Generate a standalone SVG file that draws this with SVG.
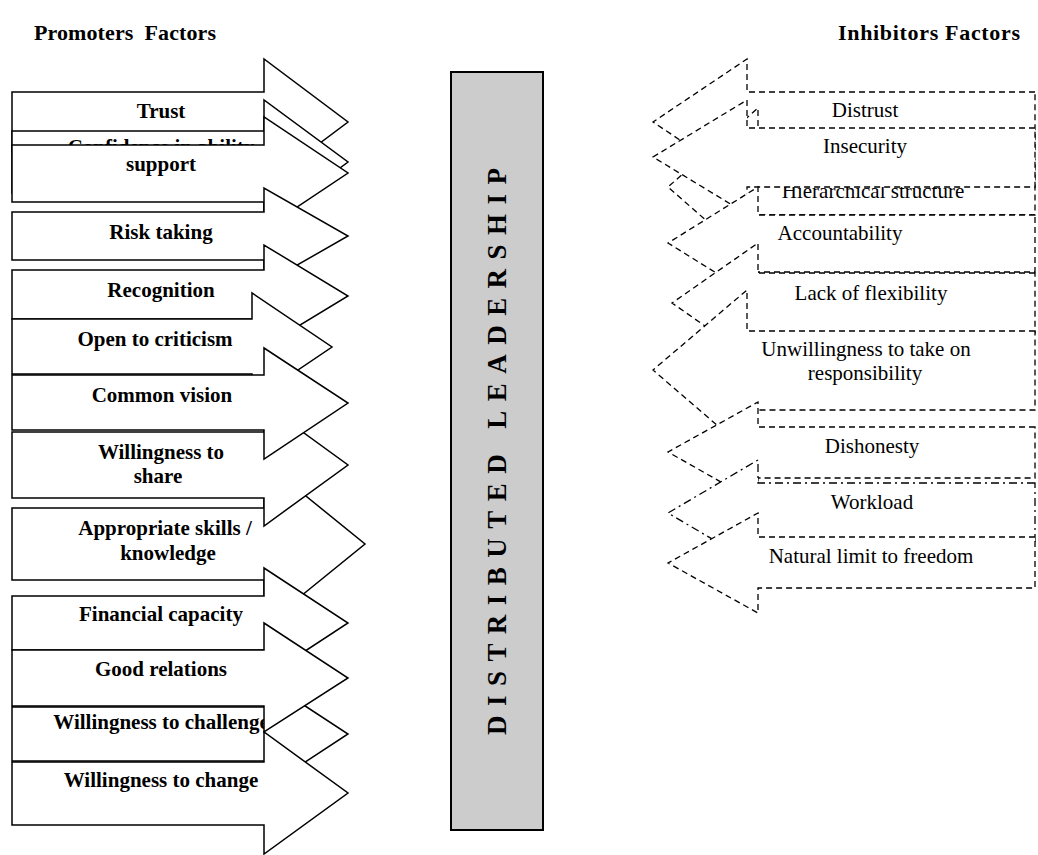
<svg xmlns="http://www.w3.org/2000/svg" width="1038" height="855" viewBox="0 0 1038 855">
<style>
.pa{fill:#fff;stroke:#000;stroke-width:1.5;stroke-linejoin:miter}
.ia{fill:#fff;stroke:#000;stroke-width:1.3;stroke-dasharray:6 4}
.dd{stroke-dasharray:8 4 2 4}
.pt{font-family:"Liberation Serif","Times New Roman",serif;font-weight:bold;font-size:21px;text-anchor:middle;fill:#000}
.it{font-family:"Liberation Serif","Times New Roman",serif;font-size:21px;text-anchor:middle;fill:#000}
.hd{font-family:"Liberation Serif","Times New Roman",serif;font-weight:bold;font-size:22px;fill:#000}
</style>
<rect width="1038" height="855" fill="#fff"/>
<g id="titles">
<text class="hd" x="34" y="40" xml:space="preserve" textLength="182">Promoters  Factors</text>
<text class="hd" x="838" y="40" textLength="182">Inhibitors Factors</text>
</g>
<g id="promoters">
<g id="p-trust"><path class="pa" d="M12,92 H264 V59 L348,122 L264,185 V152 H12 Z"/><text class="pt" x="161" y="118">Trust</text></g>
<g id="p-confidence"><path class="pa" d="M12,131 H264 V100 L348,162 L264,224 V193 H12 Z"/><text class="pt" x="161" y="154">Confidence in ability</text></g>
<g id="p-support"><path class="pa" d="M12,145 H264 V117 L348,173 L264,229 V202 H12 Z"/><text class="pt" x="161" y="171">support</text></g>
<g id="p-risk"><path class="pa" d="M12,212 H264 V188 L348,236 L264,284 V260 H12 Z"/><text class="pt" x="161" y="239">Risk taking</text></g>
<g id="p-recognition"><path class="pa" d="M12,270 H264 V245 L348,296 L264,347 V319 H12 Z"/><text class="pt" x="161" y="297">Recognition</text></g>
<g id="p-open"><path class="pa" d="M12,319 H252 V293 L332,347 L252,401 V374 H12 Z"/><text class="pt" x="155" y="346">Open to criticism</text></g>
<g id="p-skills"><path class="pa" d="M12,508 H264 V462 L365,544 L264,626 V580 H12 Z"/><text class="pt" x="165" y="535">Appropriate skills /</text><text class="pt" x="168" y="560">knowledge</text></g>
<g id="p-share"><path class="pa" d="M12,432 H264 V404 L348,465 L264,526 V498 H12 Z"/><text class="pt" x="161" y="459">Willingness to</text><text class="pt" x="158" y="483">share</text></g>
<g id="p-vision"><path class="pa" d="M12,375 H264 V348 L348,403 L264,459 V430 H12 Z"/><text class="pt" x="162" y="402">Common vision</text></g>
<g id="p-financial"><path class="pa" d="M12,596 H264 V568 L348,623 L264,678 V650 H12 Z"/><text class="pt" x="161" y="621">Financial capacity</text></g>
<g id="p-challenge"><path class="pa" d="M12,707 H264 V679 L348,734 L264,789 V761 H12 Z"/><text class="pt" x="161" y="729">Willingness to challenge</text></g>
<g id="p-relations"><path class="pa" d="M12,650 H264 V623 L348,678 L264,732 V706 H12 Z"/><text class="pt" x="161" y="676">Good relations</text></g>
<g id="p-change"><path class="pa" d="M12,762 H264 V732 L348,793 L264,854 V825 H12 Z"/><text class="pt" x="161" y="787">Willingness to change</text></g>
</g>
<g id="center">
<rect x="451" y="72" width="92" height="758" fill="#cccccc" stroke="#000" stroke-width="2"/>
<text class="hd" style="font-size:27px" transform="translate(506,735) rotate(-90)" textLength="567" lengthAdjust="spacing">DISTRIBUTED LEADERSHIP</text>
</g>
<g id="inhibitors">
<g id="i-distrust"><path class="ia" d="M1035,92 H747 V59 L653,122 L747,185 V152 H1035 Z"/><text class="it" x="865" y="117">Distrust</text></g>
<g id="i-hierarchical"><path class="ia" d="M1035,159 H758 V108 L668,187 L758,266 V215 H1035 Z"/><text class="it" x="873" y="198">Hierarchical structure</text></g>
<g id="i-insecurity"><path class="ia" d="M1035,128 H747 V100 L653,157 L747,214 V187 H1035 Z"/><text class="it" x="865" y="153">Insecurity</text></g>
<g id="i-accountability"><path class="ia" d="M1035,215 H758 V187 L668,243 L758,299 V272 H1035 Z"/><text class="it" x="840" y="240">Accountability</text></g>
<g id="i-flexibility"><path class="ia" d="M1035,273 H758 V243 L672,303 L758,363 V333 H1035 Z"/><text class="it" x="871" y="300">Lack of flexibility</text></g>
<g id="i-unwillingness"><path class="ia" d="M1035,331 H747 V290 L653,370 L747,451 V410 H1035 Z"/><text class="it" x="866" y="356">Unwillingness to take on</text><text class="it" x="865" y="380">responsibility</text></g>
<g id="i-dishonesty"><path class="ia" d="M1035,427 H758 V402 L668,452 L758,503 V478 H1035 Z"/><text class="it" x="872" y="453">Dishonesty</text></g>
<g id="i-workload"><path class="ia dd" d="M1035,483 H758 V460 L668,513 L758,566 V543 H1035 Z"/><text class="it" x="872" y="509">Workload</text></g>
<g id="i-freedom"><path class="ia" d="M1035,537 H758 V513 L668,563 L758,613 V588 H1035 Z"/><text class="it" x="871" y="563">Natural limit to freedom</text></g>
</g>
<g id="connectors"/>
</svg>
